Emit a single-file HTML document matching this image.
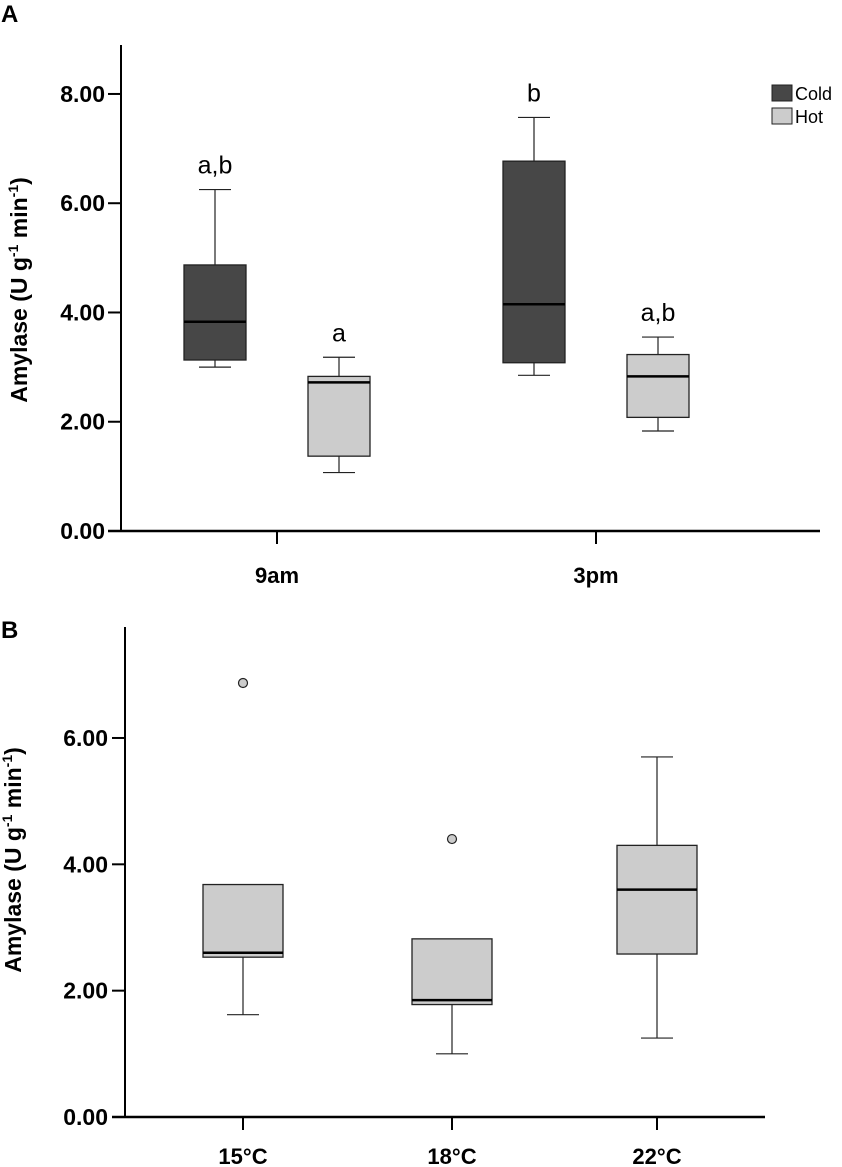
<!DOCTYPE html>
<html><head><meta charset="utf-8"><style>
body{margin:0;background:#fff;}
svg{display:block;font-family:"Liberation Sans",Arial,sans-serif;}
</style></head><body>
<svg id="c" width="842" height="1167"></svg>
<script>
const catsA=["9am","3pm"];
const coldA=[[3.0,3.13,3.83,4.87,6.25],[2.85,3.08,4.15,6.77,7.57]];
const hotA=[[1.07,1.37,2.72,2.83,3.18],[1.83,2.08,2.83,3.23,3.55]];
const lettersCold=["a,b","b"];
const lettersHot=["a","a,b"];
const ticksA=[0,2,4,6,8];
const catsB=["15°C","18°C","22°C"];
const boxesB=[[1.62,2.53,2.6,3.68,3.68],[1.0,1.78,1.85,2.82,2.82],[1.25,2.58,3.6,4.3,5.7]];
const outliersB=[6.87,4.4,null];
const ticksB=[0,2,4,6];

const svg=document.getElementById('c');
const NS="http://www.w3.org/2000/svg";
function el(t,a,txt){const e=document.createElementNS(NS,t);for(const k in a)e.setAttribute(k,a[k]);if(txt!==undefined)e.textContent=txt;svg.appendChild(e);return e;}

function yA(v){return 531-v*54.63;}
function yB(v){return 1117-v*63.17;}
const xA=[277,596], xB=[243,452,657];

function box(x,w,q,y,fill,name){
  let e;
  e=el('line',{x1:x,x2:x,y1:y(q[0]),y2:y(q[1]),stroke:'#222','stroke-width':1.2});
  
  e=el('line',{x1:x,x2:x,y1:y(q[3]),y2:y(q[4]),stroke:'#222','stroke-width':1.2});
  
  e=el('line',{x1:x-16,x2:x+16,y1:y(q[0]),y2:y(q[0]),stroke:'#222','stroke-width':1.2});
  
  if(q[4]>q[3]){
  e=el('line',{x1:x-16,x2:x+16,y1:y(q[4]),y2:y(q[4]),stroke:'#222','stroke-width':1.2});
  
  }
  e=el('rect',{x:x-w/2,y:y(q[3]),width:w,height:y(q[1])-y(q[3]),fill:fill,stroke:'#222','stroke-width':1.3});
  
  e=el('line',{x1:x-w/2,x2:x+w/2,y1:y(q[2]),y2:y(q[2]),stroke:'#000','stroke-width':2.5});
  
}

let t;
t=el('text',{x:1,y:22,'font-size':24,'font-weight':'bold'},'A');

t=el('line',{x1:121,x2:121,y1:45,y2:532,stroke:'#000','stroke-width':2});

t=el('line',{x1:108,x2:820,y1:531,y2:531,stroke:'#000','stroke-width':2.5});

ticksA.forEach(v=>{
  let e=el('line',{x1:108,x2:121,y1:yA(v),y2:yA(v),stroke:'#000','stroke-width':2});
  
  e=el('text',{x:105,y:yA(v)+8,'font-size':23,'font-weight':'bold','text-anchor':'end'},v.toFixed(2));
  
});
catsA.forEach((c,i)=>{
  let e=el('line',{x1:xA[i],x2:xA[i],y1:531,y2:544,stroke:'#000','stroke-width':2});
  
  e=el('text',{x:xA[i],y:583,'font-size':22,'font-weight':'bold','text-anchor':'middle'},c);
  
  const xc=xA[i]-62, xh=xA[i]+62;
  box(xc,62,coldA[i],yA,'#474747','panel-a-cold-'+c);
  box(xh,62,hotA[i],yA,'#cccccc','panel-a-hot-'+c);
  e=el('text',{x:xc,y:yA(coldA[i][4])-16,'font-size':25,'text-anchor':'middle'},lettersCold[i]);
  
  e=el('text',{x:xh,y:yA(hotA[i][4])-16,'font-size':25,'text-anchor':'middle'},lettersHot[i]);
  
});
t=el('text',{transform:'translate(27,290) rotate(-90)','font-size':23,'font-weight':'bold','text-anchor':'middle'});
t.innerHTML='Amylase (U g<tspan dy="-9" font-size="14">-1</tspan><tspan dy="9"> min</tspan><tspan dy="-9" font-size="14">-1</tspan><tspan dy="9">)</tspan>';

t=el('rect',{x:772,y:85,width:20,height:16,fill:'#474747',stroke:'#222'});

t=el('text',{x:795,y:100,'font-size':18},'Cold');

t=el('rect',{x:772,y:108,width:20,height:16,fill:'#cccccc',stroke:'#222'});

t=el('text',{x:795,y:123,'font-size':18},'Hot');


t=el('text',{x:1,y:638,'font-size':24,'font-weight':'bold'},'B');

t=el('line',{x1:125,x2:125,y1:627,y2:1118,stroke:'#000','stroke-width':2});

t=el('line',{x1:112,x2:765,y1:1117,y2:1117,stroke:'#000','stroke-width':2.5});

ticksB.forEach(v=>{
  let e=el('line',{x1:112,x2:125,y1:yB(v),y2:yB(v),stroke:'#000','stroke-width':2});
  
  e=el('text',{x:108,y:yB(v)+8,'font-size':23,'font-weight':'bold','text-anchor':'end'},v.toFixed(2));
  
});
catsB.forEach((c,i)=>{
  let e=el('line',{x1:xB[i],x2:xB[i],y1:1117,y2:1130,stroke:'#000','stroke-width':2});
  
  e=el('text',{x:xB[i],y:1164,'font-size':22,'font-weight':'bold','text-anchor':'middle'},c);
  
  box(xB[i],80,boxesB[i],yB,'#cccccc','panel-b-'+c);
  if(outliersB[i]!==null){
    e=el('circle',{cx:xB[i],cy:yB(outliersB[i]),r:4.5,fill:'#cccccc',stroke:'#222','stroke-width':1.2});
    
  }
});
t=el('text',{transform:'translate(21,860) rotate(-90)','font-size':23,'font-weight':'bold','text-anchor':'middle'});
t.innerHTML='Amylase (U g<tspan dy="-9" font-size="14">-1</tspan><tspan dy="9"> min</tspan><tspan dy="-9" font-size="14">-1</tspan><tspan dy="9">)</tspan>';

</script>
</body></html>
